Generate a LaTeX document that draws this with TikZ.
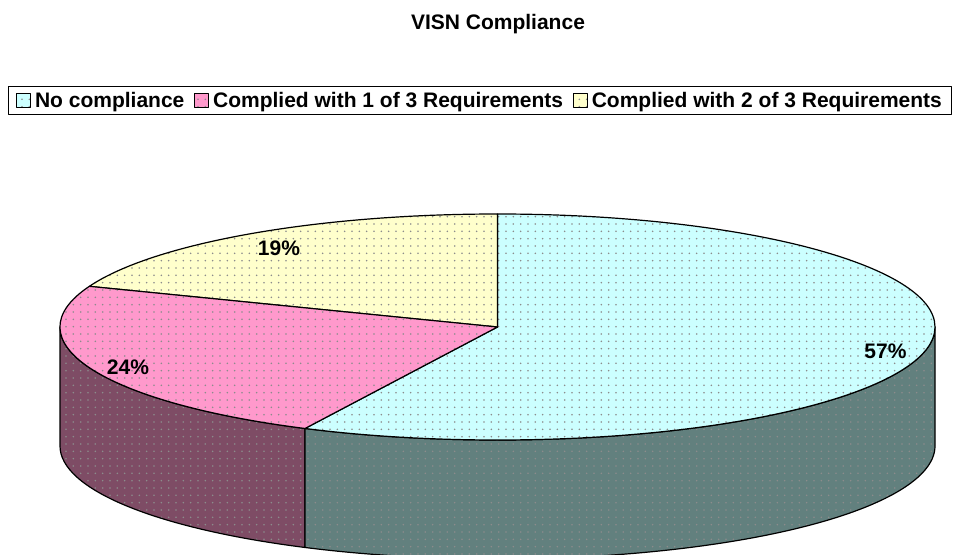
\documentclass[tikz,border=0pt]{standalone}
\usepackage{fontspec}
\setmainfont{Liberation Sans}
\usetikzlibrary{positioning,patterns.meta,calc}
\definecolor{cyantop}{HTML}{CCFFFF}
\definecolor{pinktop}{HTML}{FF99CC}
\definecolor{yellowtop}{HTML}{FFFFCC}
\definecolor{cyanside}{RGB}{98,128,126}
\definecolor{pinkside}{RGB}{126,76,101}
\begin{document}
\begin{tikzpicture}[x=0.75pt, y=0.75pt, font=\fontsize{15.75}{18}\selectfont\bfseries, line join=round, line cap=round,
	dotfill/.style={preaction={fill=#1}, pattern={Dots[distance=5.5pt,radius=0.65pt]}, pattern color=black!45},
	edge/.style={draw, line width=0.9pt},
	legkey/.style={draw, line width=0.6pt, minimum size=10.5pt, inner sep=0pt, anchor=south west},
	legtext/.style={inner sep=0pt, anchor=base west}]
	\def\cx{497.5} \def\cy{227} % tâm
	\def\ra{437.5} \def\rb{113} \def\h{119}
	\def\angA{243.9} \def\angB{158.9} % biên các phần
	\useasboundingbox (0,0) rectangle (953,554);
	\node[anchor=base] (title) at (498,524) {VISN Compliance};
	% chú thích
	\draw[line width=0.6pt] (8,440) rectangle (951,468);
	\node[legkey, dotfill=cyantop] (keyNone) at (16,446) {};
	\node[legtext] (txtNone) at ([xshift=3pt]keyNone.south east) {No compliance};
	\node[legkey, dotfill=pinktop] (keyOne) at ([xshift=7pt]txtNone.base east) {};
	\node[legtext] (txtOne) at ([xshift=3pt]keyOne.south east) {Complied with 1 of 3 Requirements};
	\node[legkey, dotfill=yellowtop] (keyTwo) at ([xshift=7pt]txtOne.base east) {};
	\node[legtext] (txtTwo) at ([xshift=3pt]keyTwo.south east) {Complied with 2 of 3 Requirements};
	% thành bên
	\coordinate (O) at (\cx,\cy);
	\coordinate (L) at ($(O)+(-\ra,0)$);
	\coordinate (R) at ($(O)+(\ra,0)$);
	\coordinate (T) at ($(O)+(0,\rb)$);
	\coordinate (A) at ($(O)+({\ra*cos(\angA)},{\rb*sin(\angA)})$);
	\coordinate (B) at ($(O)+({\ra*cos(\angB)},{\rb*sin(\angB)})$);
	\draw[edge, dotfill=pinkside] (L) -- ++(0,-\h)
		arc[start angle=180, end angle=\angA, x radius=\ra, y radius=\rb] -- (A)
		arc[start angle=\angA, end angle=180, x radius=\ra, y radius=\rb] -- cycle;
	\draw[edge, dotfill=cyanside] (A) -- ++(0,-\h)
		arc[start angle=\angA, end angle=360, x radius=\ra, y radius=\rb] -- (R)
		arc[start angle=360, end angle=\angA, x radius=\ra, y radius=\rb] -- cycle;
	% mặt trên
	\draw[edge, dotfill=cyantop] (O) -- (T)
		arc[start angle=90, end angle=\angA-360, x radius=\ra, y radius=\rb] -- cycle;
	\draw[edge, dotfill=yellowtop] (O) -- (T)
		arc[start angle=90, end angle=\angB, x radius=\ra, y radius=\rb] -- cycle;
	\draw[edge, dotfill=pinktop] (O) -- (B)
		arc[start angle=\angB, end angle=\angA, x radius=\ra, y radius=\rb] -- cycle;
	\node (pNone) at (885.5,203) {57\%};
	\node (pOne) at (128,187) {24\%};
	\node (pTwo) at (279,306) {19\%};
\end{tikzpicture}
\end{document}
